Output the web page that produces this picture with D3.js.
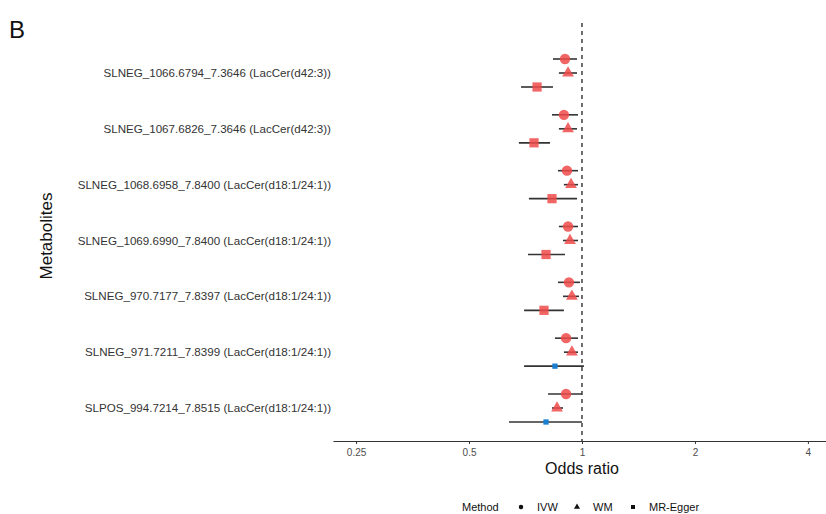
<!DOCTYPE html>
<html>
<head>
<meta charset="utf-8">
<script src="https://cdn.jsdelivr.net/npm/d3@7"></script>
<style>
  body { margin: 0; background: #fff; }
  text { font-family: "Liberation Sans", Arial, sans-serif; }
</style>
</head>
<body>
<div id="chart"></div>
<script>
// Metabolites, top to bottom
const metabolites = [
  "SLNEG_1066.6794_7.3646 (LacCer(d42:3))",
  "SLNEG_1067.6826_7.3646 (LacCer(d42:3))",
  "SLNEG_1068.6958_7.8400 (LacCer(d18:1/24:1))",
  "SLNEG_1069.6990_7.8400 (LacCer(d18:1/24:1))",
  "SLNEG_970.7177_7.8397 (LacCer(d18:1/24:1))",
  "SLNEG_971.7211_7.8399 (LacCer(d18:1/24:1))",
  "SLPOS_994.7214_7.8515 (LacCer(d18:1/24:1))"
];
const methods = ["IVW", "WM", "MR-Egger"];

// odds ratios and 95% CI
const ivwOR  = [0.901, 0.895, 0.912, 0.918, 0.923, 0.907, 0.907];
const ivwLo  = [0.837, 0.832, 0.863, 0.868, 0.863, 0.847, 0.812];
const ivwHi  = [0.970, 0.976, 0.976, 0.976, 0.988, 0.976, 0.999];
const wmOR   = [0.918, 0.918, 0.935, 0.929, 0.940, 0.940, 0.858];
const wmLo   = [0.868, 0.868, 0.895, 0.890, 0.890, 0.895, 0.832];
const wmHi   = [0.970, 0.970, 0.976, 0.976, 0.982, 0.976, 0.890];
const eggOR  = [0.759, 0.745, 0.832, 0.802, 0.792, 0.847, 0.802];
const eggLo  = [0.688, 0.679, 0.722, 0.718, 0.701, 0.701, 0.639];
const eggHi  = [0.837, 0.822, 0.970, 0.901, 0.895, 1.012, 1.000];
// significant (red) or not (blue)
const ivwSig = [1, 1, 1, 1, 1, 1, 1];
const wmSig  = [1, 1, 1, 1, 1, 1, 1];
const eggSig = [1, 1, 1, 1, 1, 0, 0];

const xTicks = [0.25, 0.5, 1, 2, 4];

const W = 826, H = 514;
const svg = d3.select("#chart").append("svg")
    .attr("width", W)
    .attr("height", H);

const rows = [];
metabolites.forEach((m, i) => {
  rows.push({m: m, method: "IVW", or: ivwOR[i], lo: ivwLo[i], hi: ivwHi[i], sig: ivwSig[i]});
  rows.push({m: m, method: "WM", or: wmOR[i], lo: wmLo[i], hi: wmHi[i], sig: wmSig[i]});
  rows.push({m: m, method: "MR-Egger", or: eggOR[i], lo: eggLo[i], hi: eggHi[i], sig: eggSig[i]});
});

const x = d3.scaleLog().base(2)
    .domain([0.217, 4.47])
    .range([333, 826]);

const y = d3.scalePoint()
    .domain(metabolites)
    .range([73, 408]);

const offset = d3.scalePoint()
    .domain(methods)
    .range([-14, 14]);

const axisY = 441;

// reference line at OR = 1
svg.append("line")
    .attr("x1", x(1)).attr("x2", x(1))
    .attr("y1", 23).attr("y2", axisY)
    .attr("stroke", "#222")
    .attr("stroke-width", 1.3)
    .attr("stroke-dasharray", "4,4");

// x axis
const xAxis = svg.append("g")
    .attr("transform", `translate(0,${axisY})`)
    .call(d3.axisBottom(x).tickValues(xTicks).tickFormat(d => d).tickSize(3).tickSizeOuter(0));
xAxis.select(".domain").attr("stroke", "#333").attr("stroke-width", 1.2);
xAxis.selectAll(".tick line").attr("stroke", "#333");
xAxis.selectAll(".tick text")
    .attr("fill", "#4d4d4d")
    .attr("font-size", 10)
    .attr("dy", "0.85em")
    .style("font-family", "Liberation Sans, Arial, sans-serif");

// metabolite labels
svg.append("g").selectAll("text")
    .data(metabolites)
  .join("text")
    .attr("x", 331)
    .attr("y", d => y(d))
    .attr("dy", "0.35em")
    .attr("text-anchor", "end")
    .attr("font-size", 11.6)
    .attr("fill", "#333")
    .text(d => d);

// CI lines
svg.append("g").selectAll("line")
    .data(rows)
  .join("line")
    .attr("x1", d => x(d.lo))
    .attr("x2", d => x(d.hi))
    .attr("y1", d => y(d.m) + offset(d.method))
    .attr("y2", d => y(d.m) + offset(d.method))
    .attr("stroke", "#333")
    .attr("stroke-width", 1.6);

const shape = {
  "IVW": d3.symbolCircle,
  "WM": d3.symbolTriangle,
  "MR-Egger": d3.symbolSquare
};

// points
svg.append("g").selectAll("path")
    .data(rows)
  .join("path")
    .attr("transform", d => `translate(${x(d.or)},${y(d.m) + offset(d.method)})`)
    .attr("d", d => d3.symbol(shape[d.method], d.sig ? (d.method === "WM" ? 60 : 85) : 28)())
    .attr("fill", d => d.sig ? "#F04A4A" : "#1a7fd0")
    .attr("fill-opacity", d => d.sig ? 0.85 : 1);

// labels
svg.append("text")
    .attr("x", 9).attr("y", 38)
    .attr("font-size", 24)
    .attr("fill", "#111")
    .text("B");

svg.append("text")
    .attr("transform", `translate(52,236) rotate(-90)`)
    .attr("text-anchor", "middle")
    .attr("font-size", 17)
    .attr("fill", "#111")
    .text("Metabolites");

svg.append("text")
    .attr("x", x(1)).attr("y", 474)
    .attr("text-anchor", "middle")
    .attr("font-size", 16)
    .attr("fill", "#111")
    .text("Odds ratio");

// legend
const legend = svg.append("g").attr("transform", "translate(0,507)");
legend.append("text")
    .attr("x", 462).attr("dy", "0.35em")
    .attr("font-size", 11).attr("fill", "#111")
    .text("Method");
const legendX = [521, 577, 633];
methods.forEach((m, i) => {
  legend.append("path")
      .attr("transform", `translate(${legendX[i]},0)`)
      .attr("d", d3.symbol(shape[m], 16)())
      .attr("fill", "#111");
  legend.append("text")
      .attr("x", legendX[i] + 16).attr("dy", "0.35em")
      .attr("font-size", 11).attr("fill", "#111")
      .text(m);
});
</script>
</body>
</html>
